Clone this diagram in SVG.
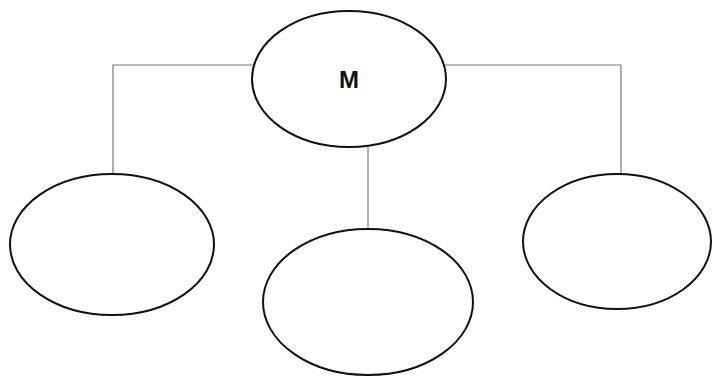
<svg xmlns="http://www.w3.org/2000/svg" width="712" height="376" viewBox="0 0 712 376">
<style>
.node{fill:#fff;stroke:#111;stroke-width:2}
.conn{fill:none;stroke:#7a7a7a;stroke-width:1.2}
.lbl{font-family:"Liberation Sans",Arial,sans-serif;font-weight:bold;font-size:24px;fill:#111;text-anchor:middle}
</style>
<rect width="712" height="376" fill="#fff"/>
<g id="connectors">
<polyline class="conn" points="253,65 113,65 113,174"/>
<polyline class="conn" points="445,65 621,65 621,174"/>
<line class="conn" x1="368" y1="147" x2="368" y2="228"/>
</g>
<g id="node-m">
<ellipse class="node" cx="349" cy="79" rx="97" ry="68"/>
<text class="lbl" x="349" y="88">M</text>
</g>
<g id="node-left">
<ellipse class="node" cx="112" cy="244.5" rx="102" ry="70.5"/>
</g>
<g id="node-middle">
<ellipse class="node" cx="368" cy="302" rx="105" ry="73"/>
</g>
<g id="node-right">
<ellipse class="node" cx="617" cy="241.5" rx="94" ry="67.5"/>
</g>
</svg>
